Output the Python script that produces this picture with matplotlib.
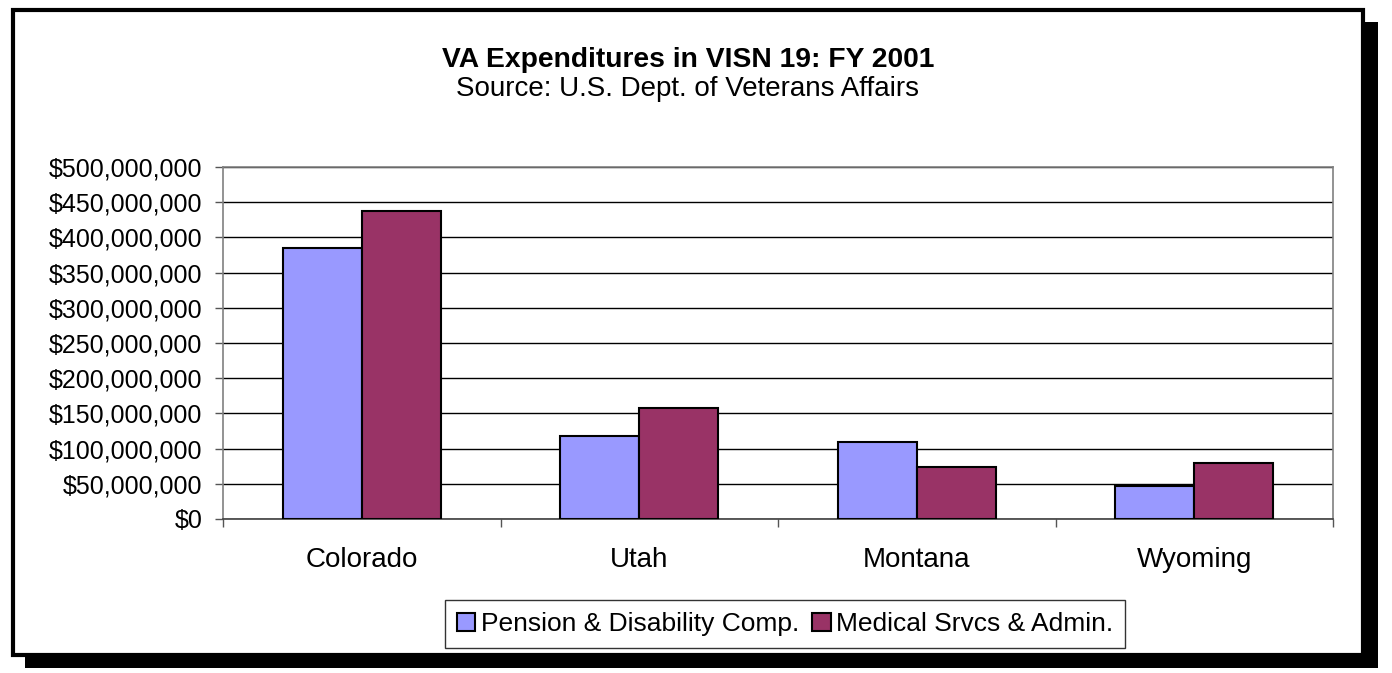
import numpy as np
import matplotlib
matplotlib.use("Agg")
import matplotlib.pyplot as plt
from matplotlib.patches import Rectangle
from matplotlib.ticker import FuncFormatter, FixedLocator

# data
states = ["Colorado", "Utah", "Montana", "Wyoming"]
pension = [385e6, 118e6, 109e6, 47e6]
medical = [437e6, 158e6, 74e6, 80e6]
series_names = ["Pension & Disability Comp.", "Medical Srvcs & Admin."]

plt.rcParams['font.family'] = ['Liberation Sans', 'DejaVu Sans']

W, H = 1392, 673
fig = plt.figure(figsize=(W / 100, H / 100), dpi=100)

def px(x0, y0, x1, y1):
    # pixel box (top-left origin) -> figure fraction rect
    return (x0 / W, 1 - y1 / H, (x1 - x0) / W, (y1 - y0) / H)

# shadow + frame, kept behind the axes
for r in [px(1363, 22, 1378, 668), px(25, 655, 1378, 668)]:
    fig.patches.append(Rectangle(r[:2], r[2], r[3], transform=fig.transFigure,
                                 facecolor='black', edgecolor='none', zorder=-2))
r = px(13, 10, 1363, 655)
fig.patches.append(Rectangle(r[:2], r[2], r[3], transform=fig.transFigure,
                             facecolor='white', edgecolor='black', linewidth=3, zorder=-1))

fig.text(688 / W, 1 - 60 / H, "VA Expenditures in VISN 19: FY 2001", ha='center', va='center',
         fontsize=20.3, fontweight='bold')
fig.text(688 / W, 1 - 89 / H, "Source: U.S. Dept. of Veterans Affairs", ha='center', va='center',
         fontsize=20)

ax = fig.add_axes(px(223, 167, 1333, 519))
ax.patch.set_alpha(0)
x = np.arange(len(states))
bw = 0.285
ax.bar(x - bw / 2, pension, bw, color='#9999FF', edgecolor='black', linewidth=1.5,
       label=series_names[0], zorder=3)
ax.bar(x + bw / 2, medical, bw, color='#993366', edgecolor='black', linewidth=1.5,
       label=series_names[1], zorder=3)

ax.set_xlim(-0.5, len(states) - 0.5)
ax.set_ylim(0, 500e6)
ax.set_yticks(np.arange(0, 500e6 + 1, 50e6))
ax.yaxis.set_major_formatter(FuncFormatter(lambda v, p: "${:,.0f}".format(v)))
ax.yaxis.grid(True, color='black', linewidth=1, zorder=0)
ax.set_axisbelow(True)

ax.set_xticks(x)
ax.set_xticklabels(states, fontsize=20)
ax.xaxis.set_minor_locator(FixedLocator(np.arange(-0.5, len(states), 1.0)))
ax.tick_params(axis='x', which='major', length=0, pad=20)
ax.tick_params(axis='x', which='minor', length=6, width=1, color='#555555', direction='out')
ax.tick_params(axis='y', length=6, width=1, color='#555555', labelsize=18, pad=9)

for s in ['top', 'right', 'left']:
    ax.spines[s].set_color('#808080')
    ax.spines[s].set_linewidth(1.2)
ax.spines['bottom'].set_color('#404040')
ax.spines['bottom'].set_linewidth(1.2)

leg = fig.legend(loc='center', bbox_to_anchor=(785 / W, 1 - 624 / H), ncol=2,
                 fontsize=19, frameon=True, fancybox=False, handlelength=0.7,
                 handleheight=0.7, handletextpad=0.2, columnspacing=0.5,
                 borderpad=0.45)
leg.get_frame().set_edgecolor('black')
leg.get_frame().set_linewidth(1)

fig.savefig("out.png", dpi=100)
